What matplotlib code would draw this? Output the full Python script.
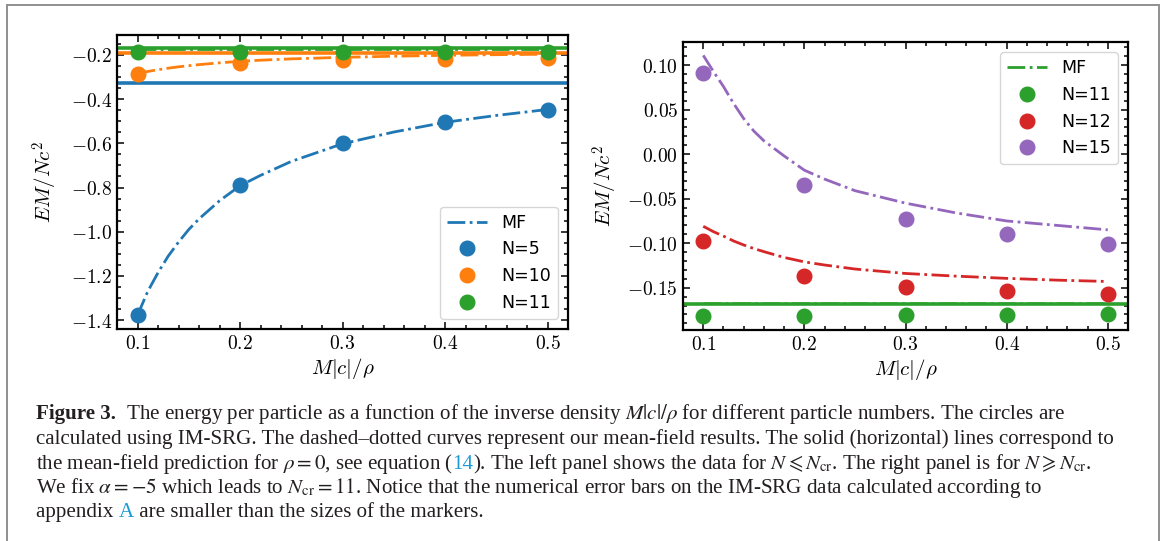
import matplotlib
matplotlib.use("Agg")
import matplotlib.pyplot as plt
from matplotlib.ticker import MultipleLocator, AutoMinorLocator, FuncFormatter
from matplotlib.patches import Rectangle
from matplotlib.lines import Line2D

plt.rcParams["mathtext.fontset"] = "cm"

# ---------------- data ----------------
x_points = [0.1, 0.2, 0.3, 0.4, 0.5]
x_mf = [0.10, 0.11, 0.12, 0.13, 0.14, 0.15, 0.16, 0.18, 0.20, 0.22, 0.25, 0.30, 0.35, 0.40, 0.45, 0.50]
x_flat = [0.1, 0.5]

# left panel: N <= N_cr
e_n5 = [-1.378, -0.788, -0.597, -0.503, -0.449]
e_n10 = [-0.287, -0.238, -0.222, -0.218, -0.215]
e_n11_left = [-0.186, -0.185, -0.185, -0.185, -0.185]
mf_n5 = [-1.378, -1.27, -1.185, -1.11, -1.047, -0.99, -0.942, -0.86, -0.792, -0.745,
         -0.682, -0.602, -0.549, -0.505, -0.474, -0.447]
mf_n10 = [-0.284, -0.275, -0.267, -0.260, -0.254, -0.249, -0.244, -0.236, -0.229, -0.224,
          -0.218, -0.211, -0.206, -0.202, -0.199, -0.197]
mf_n11_left = [-0.172, -0.172]
rho0_n5 = -0.328
rho0_n10 = -0.190
rho0_n11_left = -0.170

# right panel: N >= N_cr
e_n11 = [-0.182, -0.1815, -0.181, -0.1805, -0.1795]
e_n12 = [-0.098, -0.137, -0.149, -0.154, -0.157]
e_n15 = [0.0907, -0.0348, -0.073, -0.090, -0.101]
mf_n11 = [-0.1668, -0.1668]
mf_n12 = [-0.081, -0.087, -0.092, -0.0975, -0.102, -0.106, -0.1095, -0.116, -0.121, -0.1245,
          -0.129, -0.134, -0.137, -0.1395, -0.1415, -0.143]
mf_n15 = [0.111, 0.093, 0.076, 0.057, 0.040, 0.026, 0.015, -0.002, -0.018, -0.028,
          -0.041, -0.055, -0.066, -0.075, -0.080, -0.085]
rho0_n11 = -0.1678

labels_left = ["MF", "N=5", "N=10", "N=11"]
labels_right = ["MF", "N=11", "N=12", "N=15"]

C_BLUE, C_ORANGE, C_GREEN, C_RED, C_PURPLE = "#1f77b4", "#ff7f0e", "#2ca02c", "#d62728", "#9467bd"

W, H = 1165, 541
fig = plt.figure(figsize=(W / 100, H / 100), dpi=100)

MS = 10.5
LW_MF = 2.0
LW_H = 2.6


def style_axes(ax, yfmt):
    ax.set_xlim(0.08, 0.52)
    ax.xaxis.set_major_locator(MultipleLocator(0.1))
    ax.xaxis.set_minor_locator(AutoMinorLocator())
    ax.yaxis.set_minor_locator(AutoMinorLocator())
    ax.xaxis.set_major_formatter(FuncFormatter(lambda v, p: f"${v:.1f}$"))
    ax.yaxis.set_major_formatter(FuncFormatter(lambda v, p: "$" + (yfmt % v) + "$"))
    ax.tick_params(which="both", direction="in", top=True, right=True, labelsize=14, width=1.1)
    ax.tick_params(which="major", length=5)
    ax.tick_params(which="minor", length=2.8)
    for s in ax.spines.values():
        s.set_linewidth(1.6)
    ax.set_xlabel(r"$M|c|/\rho$", fontsize=15, labelpad=2)


# ---------------- left panel ----------------
axl = fig.add_axes([117 / W, 1 - 329 / H, 451 / W, 294 / H])
mf_l, = axl.plot(x_mf, mf_n5, ls="-.", lw=LW_MF, color=C_BLUE, zorder=2)
axl.axhline(rho0_n5, lw=LW_H, color=C_BLUE, zorder=2)
axl.plot(x_mf, mf_n10, ls="-.", lw=LW_MF, color=C_ORANGE, zorder=2)
axl.axhline(rho0_n10, lw=LW_H, color=C_ORANGE, zorder=2)
axl.plot(x_flat, mf_n11_left, ls="-.", lw=LW_MF, color=C_GREEN, zorder=2)
axl.axhline(rho0_n11_left, lw=LW_H, color=C_GREEN, zorder=2)
p5, = axl.plot(x_points, e_n5, "o", ms=MS, color=C_BLUE, zorder=3)
p10, = axl.plot(x_points, e_n10, "o", ms=MS, color=C_ORANGE, zorder=3)
p11l, = axl.plot(x_points, e_n11_left, "o", ms=MS, color=C_GREEN, zorder=3)
axl.set_ylim(-1.44, -0.11)
axl.yaxis.set_major_locator(MultipleLocator(0.2))
style_axes(axl, "%.1f")
axl.set_ylabel(r"$EM/Nc^2$", fontsize=15, labelpad=8)
axl.legend([mf_l, p5, p10, p11l], labels_left, loc="lower right", fontsize=12.5,
           handlelength=2.3, borderaxespad=0.6)

# ---------------- right panel ----------------
axr = fig.add_axes([683 / W, 1 - 330 / H, 445 / W, 288 / H])
axr.plot(x_flat, mf_n11, ls="-.", lw=LW_MF, color=C_GREEN, alpha=0.7, zorder=2)
axr.axhline(rho0_n11, lw=LW_H, color=C_GREEN, zorder=2)
axr.plot(x_mf, mf_n12, ls="-.", lw=LW_MF, color=C_RED, zorder=2)
axr.plot(x_mf, mf_n15, ls="-.", lw=LW_MF, color=C_PURPLE, zorder=2)
q11, = axr.plot(x_points, e_n11, "o", ms=MS, color=C_GREEN, zorder=3)
q12, = axr.plot(x_points, e_n12, "o", ms=MS, color=C_RED, zorder=3)
q15, = axr.plot(x_points, e_n15, "o", ms=MS, color=C_PURPLE, zorder=3)
axr.set_ylim(-0.1975, 0.126)
axr.yaxis.set_major_locator(MultipleLocator(0.05))
style_axes(axr, "%.2f")
axr.set_ylabel(r"$EM/Nc^2$", fontsize=15, labelpad=5)
leg_mf = Line2D([], [], ls="-.", lw=LW_MF, color=C_GREEN)
axr.legend([leg_mf, q11, q12, q15], labels_right, loc="upper right", fontsize=12.5,
           handlelength=2.3, borderaxespad=0.6)

# ---------------- frame ----------------
fig.patches.append(Rectangle((7 / W, -0.05), (1159 - 7) / W, 1.05 - 5 / H,
                             transform=fig.transFigure, fill=False,
                             edgecolor="#8f8f8f", lw=1.4, zorder=0))

# ---------------- caption ----------------
renderer = fig.canvas.get_renderer()
CAP_SIZE = 15.1
CAP_COLOR = "#231f20"
LINK = "#1a9bd7"
BASE = dict(family="Liberation Serif", math_fontfamily="stix", fontsize=CAP_SIZE)


def advance(text, props):
    t1 = fig.text(0, 0, text + "|", **props)
    t2 = fig.text(0, 0, "|", **props)
    w = t1.get_window_extent(renderer).width - t2.get_window_extent(renderer).width
    t1.remove()
    t2.remove()
    return w


def caption_line(y_px, segments):
    x = 36.0
    for text, extra in segments:
        props = dict(BASE)
        props["color"] = CAP_COLOR
        props.update(extra)
        fig.text(x / W, 1 - y_px / H, text, ha="left", va="baseline", **props)
        x += advance(text, props)


caption_line(419, [("Figure 3.", {"fontweight": "bold"}),
                   (r"  The energy per particle as a function of the inverse density $M|c|/\rho$ for different particle numbers. The circles are", {})])
caption_line(444, [("calculated using IM-SRG. The dashed\u2013dotted curves represent our mean-field results. The solid (horizontal) lines correspond to", {})])
caption_line(469, [(r"the mean-field prediction for $\rho = 0$, see equation (", {}),
                   ("14", {"color": LINK}),
                   (r"). The left panel shows the data for $N \leqslant N_{\mathrm{cr}}$. The right panel is for $N \geqslant N_{\mathrm{cr}}$.", {})])
caption_line(493, [(r"We fix $\alpha = -5$ which leads to $N_{\mathrm{cr}} = 11$. Notice that the numerical error bars on the IM-SRG data calculated according to", {})])
caption_line(517, [("appendix ", {}), ("A", {"color": LINK}),
                   (" are smaller than the sizes of the markers.", {})])

fig.savefig("out.png", dpi=100)
